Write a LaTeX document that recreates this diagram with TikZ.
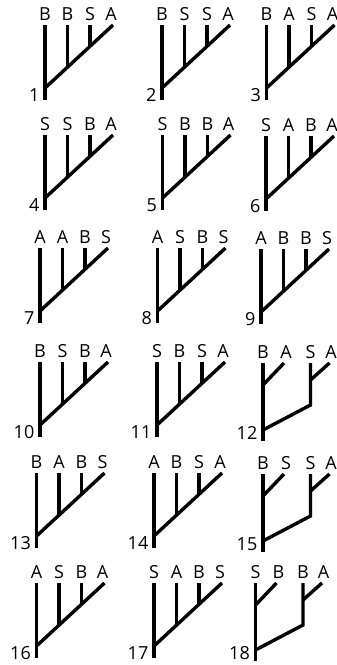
\documentclass[tikz,border=0pt]{standalone}
\usepackage{fontspec}
\setmainfont{Open Sans}
\tikzset{
  edge/.style={line width=3.4pt, line cap=butt, line join=miter, black},
  lab/.style={anchor=base, inner sep=0pt, font=\fontsize{18}{20}\selectfont},
  num/.style={anchor=base east, inner sep=0pt, font=\fontsize{18}{20}\selectfont},
}
\newcommand\cattree[7]{%
  \coordinate (n#3top) at (#1,#2);
  \coordinate (n#3bot) at (#1,#2+75);
  \coordinate (n#3a) at (#1,#2+63);
  \coordinate (n#3tip) at (#1+68,#2);
  \coordinate (n#3vat) at (#1+22.5,#2);
  \coordinate (n#3vab) at (#1+22.5,#2+42.2);
  \coordinate (n#3vbt) at (#1+45,#2);
  \coordinate (n#3vbb) at (#1+45,#2+21.3);
  \draw[edge] (n#3top) -- (n#3bot);
  \draw[edge] (n#3a) -- (n#3tip);
  \draw[edge] (n#3vat) -- (n#3vab);
  \draw[edge] (n#3vbt) -- (n#3vbb);
  \node[lab] (n#3la) at (#1,#2-5) {#4};
  \node[lab] (n#3lb) at (#1+22.5,#2-5) {#5};
  \node[lab] (n#3lc) at (#1+45,#2-5) {#6};
  \node[lab] (n#3ld) at (#1+66,#2-5) {#7};
  \node[num] (n#3n) at (#1-5.5,#2+76.5) {#3};
}
\newcommand\symtree[7]{%
  \coordinate (n#3top) at (#1,#2);
  \coordinate (n#3bot) at (#1,#2+78);
  \coordinate (n#3a) at (#1,#2+22);
  \coordinate (n#3atip) at (#1+21,#2);
  \coordinate (n#3c) at (#1,#2+67);
  \coordinate (n#3rt) at (#1+47.5,#2);
  \coordinate (n#3rb) at (#1+47.5,#2+42);
  \coordinate (n#3rm) at (#1+47.5,#2+17);
  \coordinate (n#3rtip) at (#1+66.5,#2);
  \draw[edge] (n#3top) -- (n#3bot);
  \draw[edge] (n#3a) -- (n#3atip);
  \draw[edge] (n#3rt) -- (n#3rb) -- (n#3c);
  \draw[edge] (n#3rm) -- (n#3rtip);
  \node[lab] (n#3la) at (#1,#2-5) {#4};
  \node[lab] (n#3lb) at (#1+23,#2-5) {#5};
  \node[lab] (n#3lc) at (#1+47.5,#2-5) {#6};
  \node[lab] (n#3ld) at (#1+68,#2-5) {#7};
  \node[num] (n#3n) at (#1-5.5,#2+76.5) {#3};
}
\begin{document}
\begin{tikzpicture}[x=1pt,y=-1pt]
\useasboundingbox (0,0) rectangle (337,665);
\cattree{45}{25}{1}{B}{B}{S}{A}
\cattree{162}{25}{2}{B}{S}{S}{A}
\cattree{266.5}{25}{3}{B}{A}{S}{A}
\cattree{45}{135}{4}{S}{S}{B}{A}
\cattree{162.5}{135}{5}{S}{B}{B}{A}
\cattree{266}{136}{6}{S}{A}{B}{A}
\cattree{40}{248}{7}{A}{A}{B}{S}
\cattree{157.5}{248}{8}{A}{S}{B}{S}
\cattree{261}{249}{9}{A}{B}{B}{S}
\cattree{40}{362}{10}{B}{S}{B}{A}
\cattree{157}{362}{11}{S}{B}{S}{A}
\symtree{263}{363}{12}{B}{A}{S}{A}
\cattree{36.5}{473}{13}{B}{A}{B}{S}
\cattree{154}{473}{14}{A}{B}{S}{A}
\symtree{263}{474}{15}{B}{S}{S}{A}
\cattree{36.5}{583}{16}{A}{S}{B}{A}
\cattree{154}{583}{17}{S}{A}{B}{S}
\symtree{255.5}{583}{18}{S}{B}{B}{A}
\end{tikzpicture}
\end{document}
